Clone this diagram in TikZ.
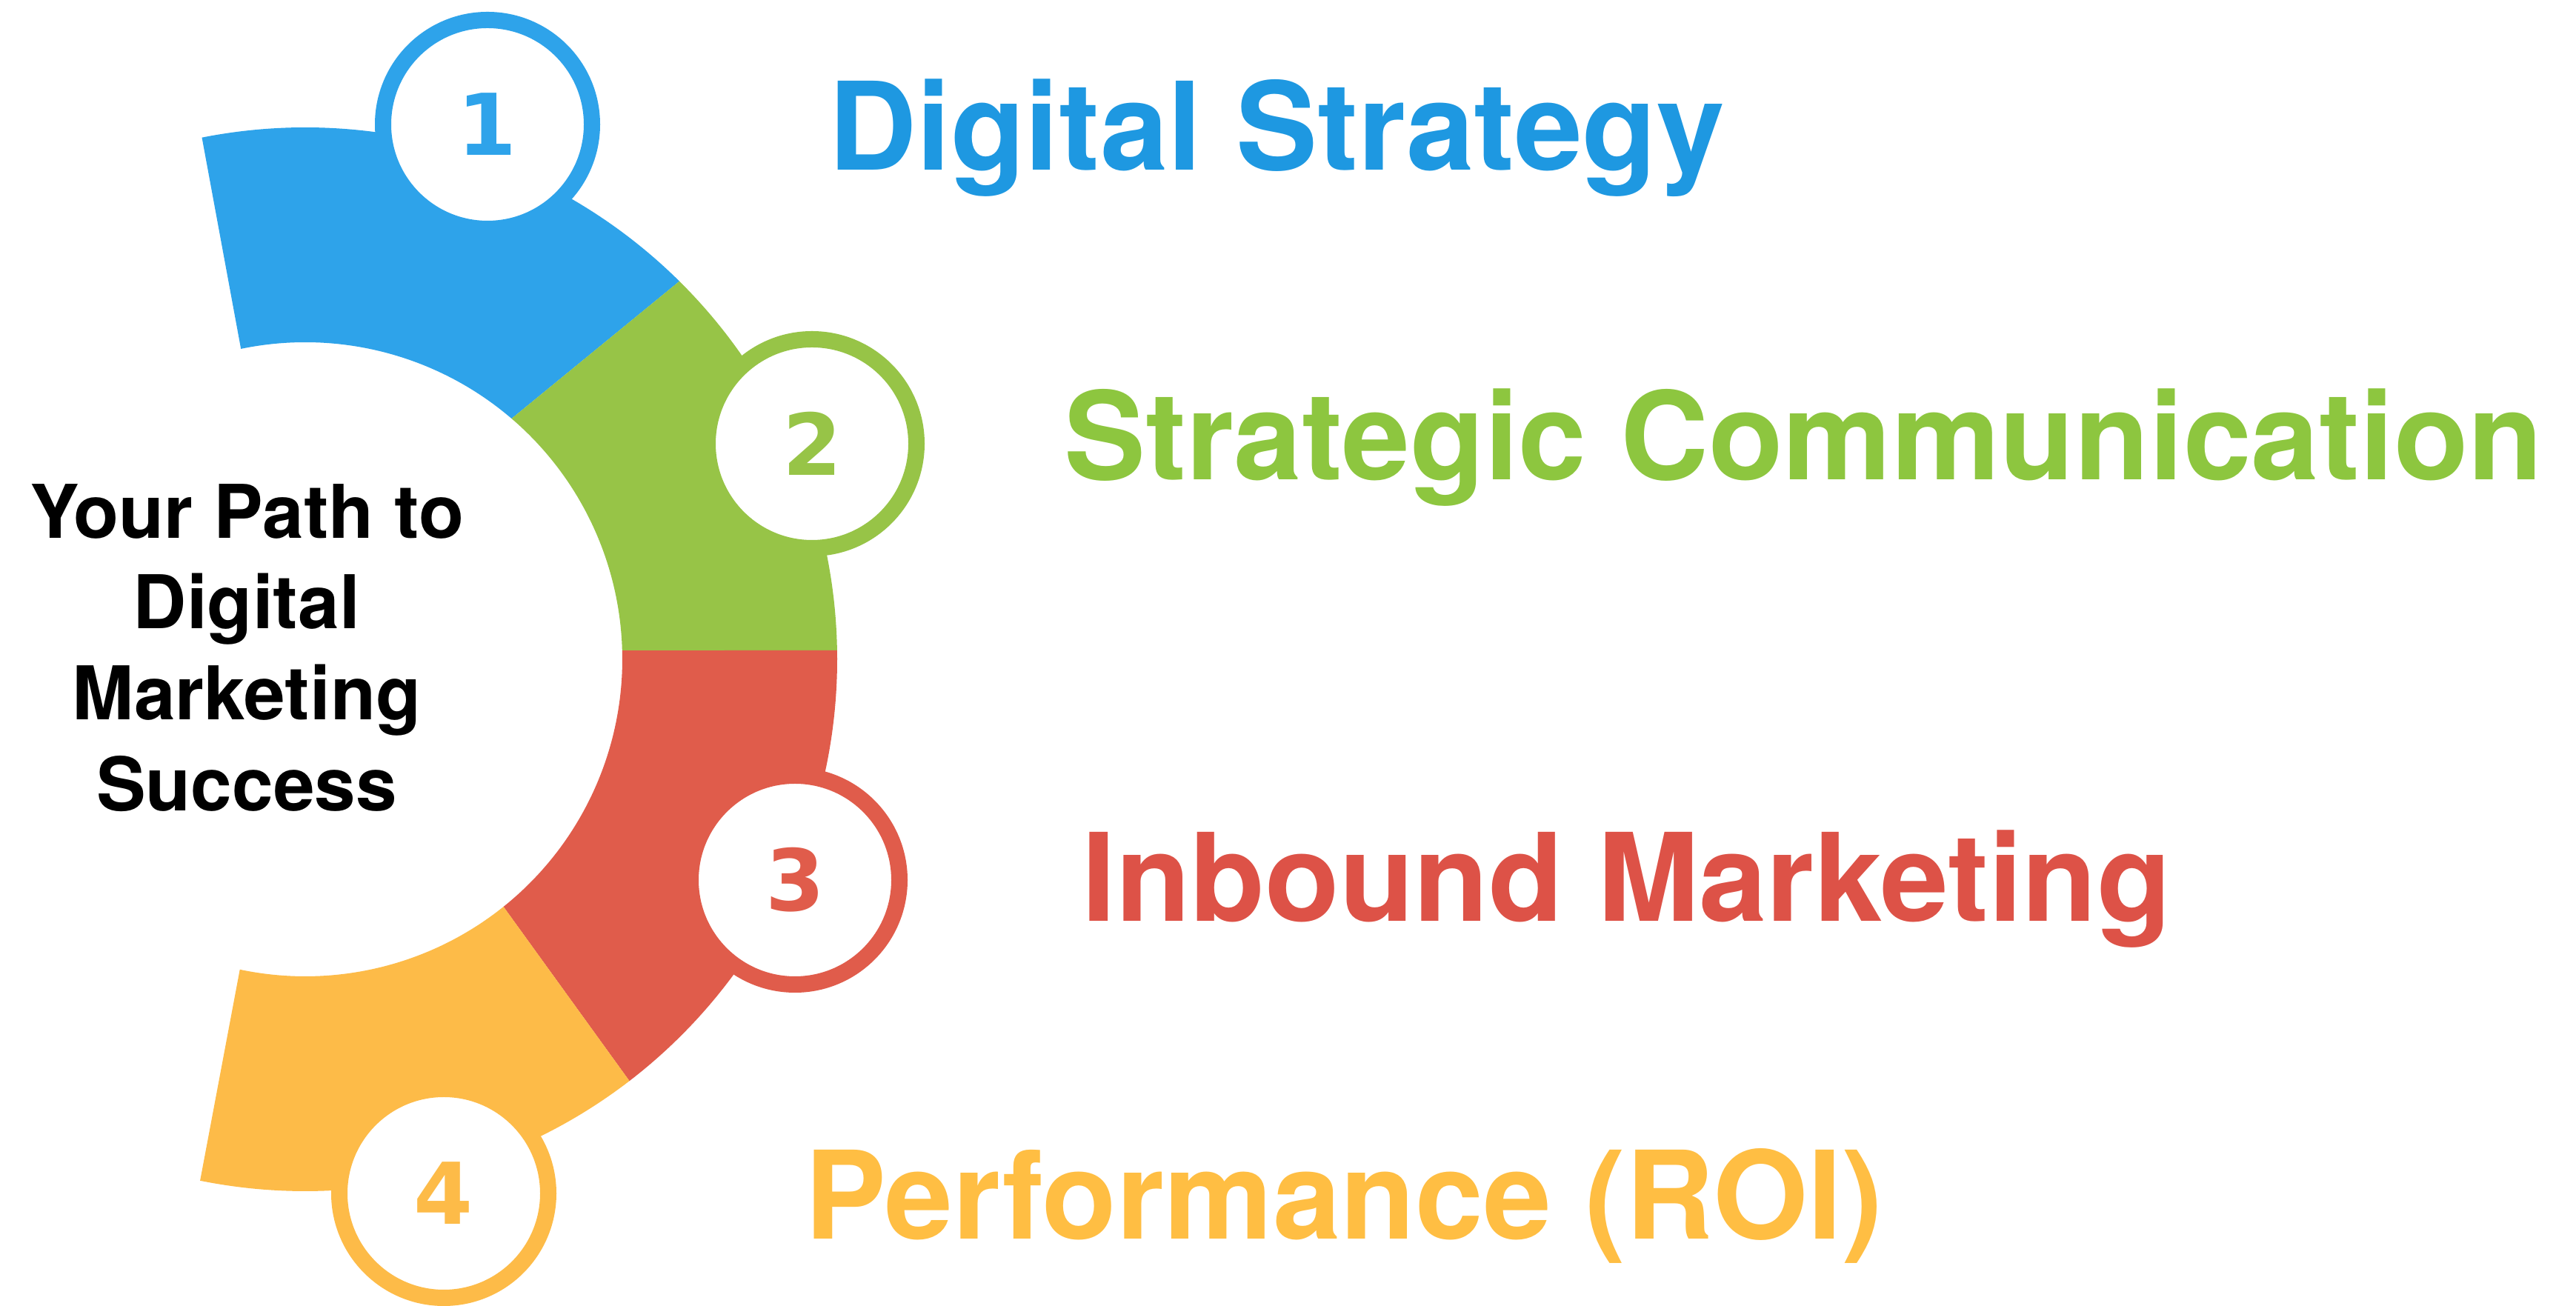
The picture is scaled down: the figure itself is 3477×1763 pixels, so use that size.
\documentclass[tikz,border=0pt]{standalone}
\usepackage{fontspec}
\setmainfont{TeX Gyre Heros}
\newfontfamily\digitfont{DejaVu Sans}
\usetikzlibrary{calc}
\definecolor{bblue}{HTML}{2EA3EA}
\definecolor{bgreen}{HTML}{97C447}
\definecolor{bred}{HTML}{E05C4B}
\definecolor{byellow}{HTML}{FDBB48}
\definecolor{tblue}{HTML}{1E98E1}
\definecolor{tgreen}{HTML}{8DC63F}
\definecolor{tred}{HTML}{DD5247}
\definecolor{tyellow}{HTML}{FFBE43}
\begin{document}
\begin{tikzpicture}[x=1pt,y=1pt,
  numcircle/.style={circle, fill=white, line width=22pt, minimum size=282pt,
    inner sep=0pt, outer sep=0pt,
    font=\digitfont\bfseries\fontsize{115pt}{115pt}\selectfont},
  heading/.style={anchor=base west, inner sep=0pt,
    font=\bfseries\fontsize{164.8pt}{170pt}\selectfont},
  centerline/.style={anchor=base, inner sep=0pt,
    font=\bfseries\fontsize{100pt}{122.8pt}\selectfont}]
\useasboundingbox (0,0) rectangle (3477,1763);
\fill[white] (0,0) rectangle (3477,1763);
\coordinate (C) at (412,873);
% band segments
\fill[bblue] ($(C)+(49.4:428)$) -- ($(C)+(45.3:718)$)
  arc[start angle=45.3,end angle=101.2,radius=718pt]
  -- ($(C)+(101.7:428)$)
  arc[start angle=101.7,end angle=49.4,radius=428pt] -- cycle;
\fill[bgreen] ($(C)+(1.6:428)$) -- ($(C)+(0.96:718)$)
  arc[start angle=0.96,end angle=45.3,radius=718pt]
  -- ($(C)+(49.4:428)$)
  arc[start angle=49.4,end angle=1.6,radius=428pt] -- cycle;
\fill[bred] ($(C)+(-51.3:428)$) -- ($(C)+(-52.45:718)$)
  arc[start angle=-52.45,end angle=0.96,radius=718pt]
  -- ($(C)+(1.6:428)$)
  arc[start angle=1.6,end angle=-51.3,radius=428pt] -- cycle;
\fill[byellow] ($(C)+(-101.9:428)$) -- ($(C)+(-101.4:718)$)
  arc[start angle=-101.4,end angle=-52.45,radius=718pt]
  -- ($(C)+(-51.3:428)$)
  arc[start angle=-51.3,end angle=-101.9,radius=428pt] -- cycle;
% number circles
\node[numcircle, draw=bblue, text=bblue] (c1) at (658,1595) {1};
\node[numcircle, draw=bgreen, text=bgreen] (c2) at (1096,1164) {2};
\node[numcircle, draw=bred, text=bred] (c3) at (1073,575) {3};
\node[numcircle, draw=byellow, text=byellow] (c4) at (599,152) {4};
% headings
\node[heading, text=tblue] (h1) at (1118,1533) {Digital Strategy};
\node[heading, text=tgreen] (h2) at (1436,1115) {Strategic Communication};
\node[heading, text=tred] (h3) at (1460,519) {Inbound Marketing};
\node[heading, text=tyellow] (h4) at (1086,90) {Performance (ROI)};
% centre text
\node[centerline] (t1) at (333,1036.7) {Your Path to};
\node[centerline] (t2) at (333,914) {Digital};
\node[centerline] (t3) at (333,791.2) {Marketing};
\node[centerline] (t4) at (333,668.4) {Success};
\end{tikzpicture}
\end{document}
